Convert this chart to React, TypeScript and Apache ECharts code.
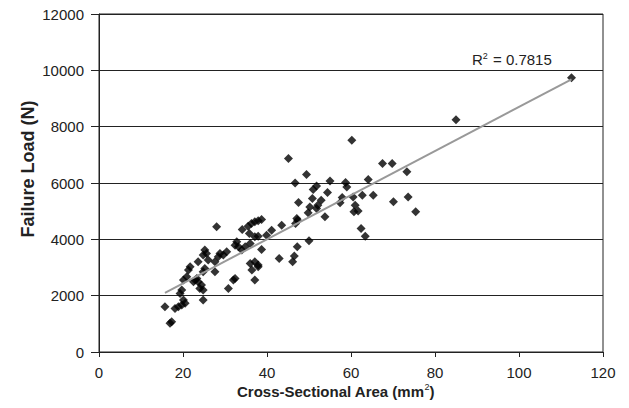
import React, { useEffect, useRef } from "react";
import * as echarts from "echarts";

const areaValues: number[] = [
  15.7, 16.9, 17.3, 18.1, 18.9, 19.7, 20.5, 20.1, 19.3, 19.7,
  20.1, 20.9, 21.3, 21.7, 22.5, 22.9, 23.3, 23.6, 24.4, 24.0,
  24.8, 24.8, 23.6, 24.8, 25.2, 24.8, 25.2, 25.6, 26.0, 27.6,
  27.6, 28.0, 28.4, 28.8, 29.6, 30.4, 30.8, 32.0, 32.4, 32.4,
  32.8, 33.2, 34.0, 34.8, 34.1, 35.5, 35.8, 36.0, 36.3, 37.1,
  37.9, 38.7, 36.0, 37.1, 36.4, 37.9, 37.1, 37.9, 37.1, 37.9,
  39.9, 38.7, 41.1, 43.5, 42.9, 45.1, 46.1, 46.5, 47.2, 46.8,
  47.1, 47.3, 46.7, 47.5, 49.4, 49.8, 50.0, 50.2, 50.8, 51.0,
  51.8, 51.8, 52.1, 52.9, 53.8, 54.4, 55.0, 57.4, 57.9, 58.7,
  59.0, 60.2, 60.5, 61.0, 60.7, 61.7, 62.4, 63.4, 62.7, 64.1,
  65.3, 67.5, 69.8, 70.1, 73.3, 73.6, 75.4, 85.0, 112.5,
];

const loadValues: number[] = [
  1606, 1018, 1074, 1548, 1606, 1667, 1727, 1844, 2081, 2199,
  2553, 2670, 2908, 3025, 2493, 2553, 2613, 2493, 2376, 2258,
  2199, 1844, 3202, 2848, 2968, 3440, 3617, 3500, 3262, 3202,
  2848, 4443, 3379, 3500, 3440, 3557, 2258, 2553, 2613, 3794,
  3911, 3734, 3617, 3734, 4351, 4468, 4209, 3854, 4564, 4621,
  4656, 4706, 3145, 3202, 2908, 3025, 2553, 3085, 4088, 4113,
  4149, 3641, 4326, 4503, 3322, 6869, 3202, 3404, 3734, 4564,
  4741, 4681, 6004, 5308, 6301, 4940, 3947, 5152, 5450, 5770,
  5890, 5096, 5213, 5390, 4798, 5663, 6075, 5295, 5486, 6017,
  5862, 7518, 5507, 5213, 4975, 5010, 4386, 4113, 5567, 6124,
  5567, 6690, 6690, 5330, 6395, 5507, 4975, 8250, 9740,
];

const trendX: number[] = [15.7, 112.5];
const trendY: number[] = [2100, 9680];

const xTicks: number[] = [0, 20, 40, 60, 80, 100, 120];
const yTicks: number[] = [0, 2000, 4000, 6000, 8000, 10000, 12000];

const rSquaredText = "0.7815";

export default function App() {
  const ref = useRef<HTMLDivElement>(null);

  useEffect(() => {
    if (!ref.current) return;
    const chart = echarts.init(ref.current, undefined, { renderer: "svg" });
    const font = "Liberation Sans, Arial, sans-serif";
    const scatterData = areaValues.map((x, i) => [x, loadValues[i]]);
    const trendData = trendX.map((x, i) => [x, trendY[i]]);

    chart.setOption({
      animation: false,
      backgroundColor: "#ffffff",
      grid: {
        left: 99,
        right: 26,
        top: 14,
        bottom: 56,
        show: true,
        borderColor: "#222",
        borderWidth: 1,
        containLabel: false,
      },
      xAxis: {
        type: "value",
        min: xTicks[0],
        max: xTicks[xTicks.length - 1],
        interval: xTicks[1] - xTicks[0],
        axisLine: { show: true, onZero: false, lineStyle: { color: "#222", width: 1 } },
        axisTick: { show: true, length: 5, lineStyle: { color: "#222" } },
        splitLine: { show: false },
        axisLabel: {
          color: "#222",
          fontSize: 15,
          fontFamily: font,
          margin: 13,
          formatter: (v: number) => String(v),
        },
      },
      yAxis: {
        type: "value",
        min: yTicks[0],
        max: yTicks[yTicks.length - 1],
        interval: yTicks[1] - yTicks[0],
        axisLine: { show: true, onZero: false, lineStyle: { color: "#222", width: 1 } },
        axisTick: { show: true, length: 8, lineStyle: { color: "#222" } },
        splitLine: { show: true, lineStyle: { color: "#222", width: 1 } },
        axisLabel: {
          color: "#222",
          fontSize: 15,
          fontFamily: font,
          margin: 15,
          formatter: (v: number) => String(v),
        },
      },
      series: [
        {
          type: "scatter",
          data: scatterData,
          symbol: "diamond",
          symbolSize: 9,
          itemStyle: { color: "#000" },
          z: 2,
        },
        {
          type: "line",
          data: trendData,
          symbol: "none",
          lineStyle: { color: "#999", width: 2 },
          z: 3,
        },
      ],
      graphic: [
        {
          type: "text",
          left: 472,
          top: 51,
          style: {
            text: "{a|R}{s|2}{a| = " + rSquaredText + "}",
            rich: {
              a: { fontSize: 15, fontFamily: font, fill: "#222", lineHeight: 17 },
              s: { fontSize: 9, fontFamily: font, fill: "#222", verticalAlign: "top", lineHeight: 17, padding: [0, 1, 6, 0] },
            },
          },
        },
        {
          type: "text",
          left: 237,
          top: 382,
          style: {
            text: "{a|Cross-Sectional Area (mm}{s|2}{a|)}",
            rich: {
              a: { fontSize: 15, fontWeight: "bold", fontFamily: font, fill: "#222", lineHeight: 18 },
              s: { fontSize: 9, fontFamily: font, fill: "#222", verticalAlign: "top", lineHeight: 18, padding: [0, 0, 6, 0] },
            },
          },
        },
        {
          type: "text",
          x: 28,
          y: 169,
          rotation: Math.PI / 2,
          style: {
            text: "Failure Load (N)",
            fontSize: 18,
            fontWeight: "bold",
            fontFamily: font,
            fill: "#222",
            align: "center",
            verticalAlign: "middle",
          },
        },
      ],
    });

    return () => {
      chart.dispose();
    };
  }, []);

  return (
    <div
      ref={ref}
      style={{ position: "fixed", left: 0, top: 0, width: 629, height: 408, background: "#fff" }}
    />
  );
}
